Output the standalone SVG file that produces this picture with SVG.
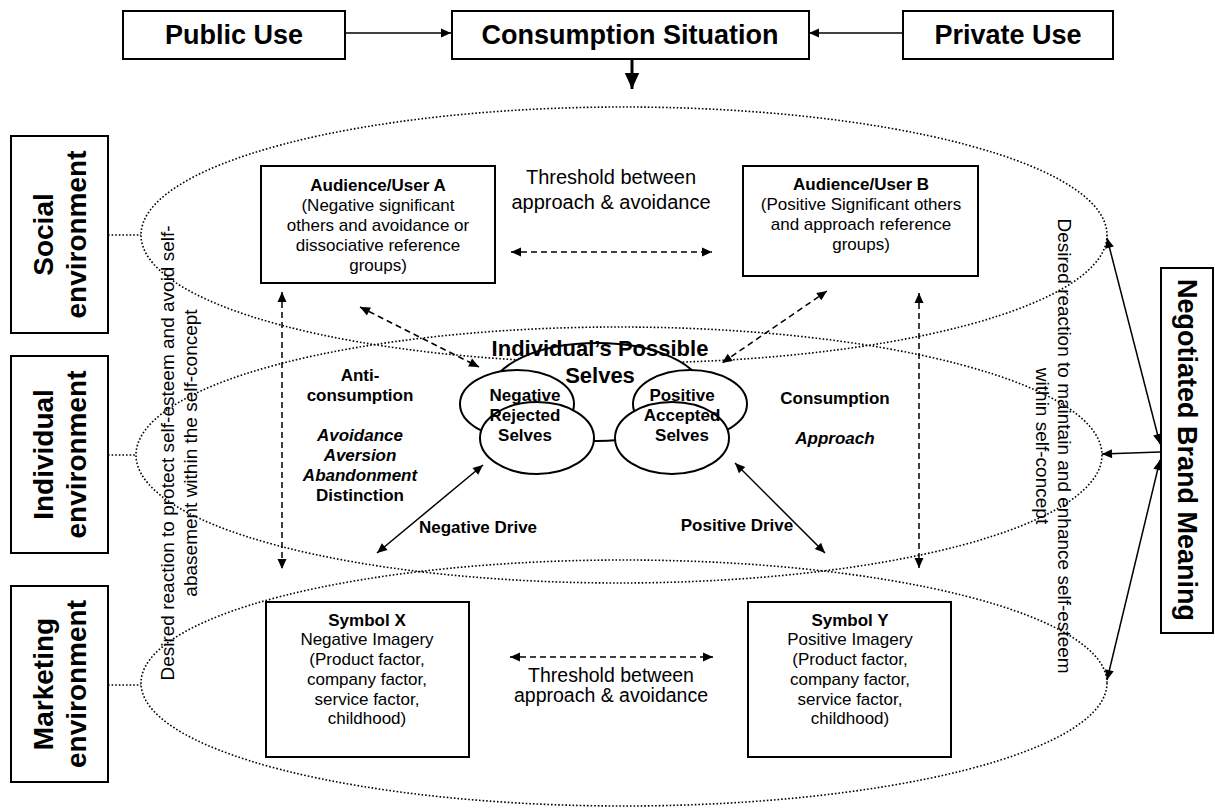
<svg xmlns="http://www.w3.org/2000/svg" width="1215" height="809" viewBox="0 0 1215 809">
<defs>
<style>
.box{fill:#fff;stroke:#000;stroke-width:2}
.t{font-family:"Liberation Sans",Arial,Helvetica,sans-serif;fill:#000}
.b{font-weight:bold}
.i{font-style:italic}
.dot{fill:none;stroke:#000;stroke-width:1.6;stroke-dasharray:1.6 2}
.dash{fill:none;stroke:#000;stroke-width:1.5;stroke-dasharray:6 4}
.sol{fill:none;stroke:#000;stroke-width:1.5}
.self{fill:#fff;stroke:#000;stroke-width:2}
</style>
<marker id="ah" viewBox="0 0 10 10" refX="10" refY="5" markerWidth="11" markerHeight="10" markerUnits="userSpaceOnUse" orient="auto-start-reverse"><path d="M0,0.5 L10,5 L0,9.5 z" fill="#000"/></marker>
<marker id="big" viewBox="0 0 10 10" refX="10" refY="5" markerWidth="16" markerHeight="16" markerUnits="userSpaceOnUse" orient="auto"><path d="M0,0.5 L10,5 L0,9.5 z" fill="#000"/></marker>
</defs>
<rect width="1215" height="809" fill="#fff"/>

<g id="environments">
<ellipse id="social-ellipse" class="dot" cx="624" cy="235" rx="483" ry="128"/>
<ellipse id="individual-ellipse" class="dot" cx="619" cy="455" rx="483" ry="128"/>
<ellipse id="marketing-ellipse" class="dot" cx="624" cy="683" rx="483" ry="123"/>
</g>

<g id="connectors">
<line class="sol" x1="345" y1="33" x2="451" y2="33" marker-end="url(#ah)"/>
<line class="sol" x1="903" y1="33" x2="809" y2="33" marker-end="url(#ah)"/>
<line x1="632" y1="59" x2="632" y2="89" stroke="#000" stroke-width="3" marker-end="url(#big)"/>
<line class="dot" x1="108" y1="235" x2="141" y2="235"/>
<line class="dot" x1="108" y1="455" x2="136" y2="455"/>
<line class="dot" x1="108" y1="685" x2="141" y2="685"/>
<line class="dash" x1="511" y1="252" x2="712" y2="252" marker-start="url(#ah)" marker-end="url(#ah)"/>
<line class="dash" x1="282" y1="292" x2="282" y2="569" marker-start="url(#ah)" marker-end="url(#ah)"/>
<line class="dash" x1="919" y1="293" x2="919" y2="568" marker-start="url(#ah)" marker-end="url(#ah)"/>
<line class="dash" x1="360" y1="307" x2="479" y2="367" marker-start="url(#ah)" marker-end="url(#ah)"/>
<line class="dash" x1="827" y1="291" x2="722" y2="363" marker-start="url(#ah)" marker-end="url(#ah)"/>
<line class="sol" x1="483" y1="465" x2="377" y2="553" marker-start="url(#ah)" marker-end="url(#ah)"/>
<line class="sol" x1="735" y1="463" x2="825" y2="553" marker-start="url(#ah)" marker-end="url(#ah)"/>
<line class="dash" x1="510" y1="657" x2="713" y2="657" marker-start="url(#ah)" marker-end="url(#ah)"/>
<line class="sol" x1="1160" y1="444" x2="1107" y2="238" marker-start="url(#ah)" marker-end="url(#ah)"/>
<line class="sol" x1="1160" y1="452" x2="1102" y2="454" marker-end="url(#ah)"/>
<line class="sol" x1="1160" y1="460" x2="1107" y2="680" marker-start="url(#ah)" marker-end="url(#ah)"/>
</g>

<g id="public-use">
<rect class="box" x="123" y="11" width="222" height="48"/>
<text class="t b" x="234" y="44" font-size="27" text-anchor="middle">Public Use</text>
</g>
<g id="consumption-situation">
<rect class="box" x="452" y="11" width="357" height="48"/>
<text class="t b" x="630" y="44" font-size="27" text-anchor="middle">Consumption Situation</text>
</g>
<g id="private-use">
<rect class="box" x="903" y="11" width="210" height="48"/>
<text class="t b" x="1008" y="44" font-size="27" text-anchor="middle">Private Use</text>
</g>

<g id="social-environment">
<rect class="box" x="11" y="136" width="97" height="197"/>
<text class="t b" font-size="28" text-anchor="middle" transform="translate(59.5,234.5) rotate(-90)"><tspan x="0" y="-6.5">Social</tspan><tspan x="0" y="26.5">environment</tspan></text>
</g>
<g id="individual-environment">
<rect class="box" x="11" y="356" width="97" height="197"/>
<text class="t b" font-size="28" text-anchor="middle" transform="translate(59.5,454.5) rotate(-90)"><tspan x="0" y="-6.5">Individual</tspan><tspan x="0" y="26.5">environment</tspan></text>
</g>
<g id="marketing-environment">
<rect class="box" x="11" y="586" width="97" height="196"/>
<text class="t b" font-size="28" text-anchor="middle" transform="translate(59.5,684) rotate(-90)"><tspan x="0" y="-6.5">Marketing</tspan><tspan x="0" y="26.5">environment</tspan></text>
</g>

<g id="negotiated-brand-meaning">
<rect class="box" x="1161" y="268" width="52" height="365"/>
<text class="t b" font-size="27" text-anchor="middle" transform="translate(1187,450) rotate(90)" y="9.5">Negotiated Brand Meaning</text>
</g>

<g id="left-reaction">
<text class="t" font-size="19" text-anchor="middle" transform="translate(167,453) rotate(-90)" y="6.7">Desired reaction to protect self-esteem and avoid self-</text>
<text class="t" font-size="19" text-anchor="middle" transform="translate(190,453) rotate(-90)" y="6.7">abasement within the self-concept</text>
</g>
<g id="right-reaction">
<text class="t" font-size="19" text-anchor="middle" transform="translate(1065,446) rotate(90)" y="6.7">Desired reaction to maintain and enhance self-esteem</text>
<text class="t" font-size="19" text-anchor="middle" transform="translate(1043,446) rotate(90)" y="6.7">within self-concept</text>
</g>

<g id="audience-a">
<rect class="box" x="261" y="166" width="234" height="117"/>
<text class="t" font-size="17" text-anchor="middle"><tspan class="b" x="378" y="191">Audience/User A</tspan><tspan x="378" y="211">(Negative significant</tspan><tspan x="378" y="231">others and avoidance or</tspan><tspan x="378" y="251">dissociative reference</tspan><tspan x="378" y="271">groups)</tspan></text>
</g>
<g id="audience-b">
<rect class="box" x="743" y="166" width="235" height="110"/>
<text class="t" font-size="17" text-anchor="middle"><tspan class="b" x="861" y="190">Audience/User B</tspan><tspan x="861" y="210">(Positive Significant others</tspan><tspan x="861" y="230">and approach reference</tspan><tspan x="861" y="250">groups)</tspan></text>
</g>
<g id="threshold-top">
<text class="t" font-size="20" text-anchor="middle"><tspan x="611" y="184">Threshold between</tspan><tspan x="611" y="209">approach &amp; avoidance</tspan></text>
</g>

<g id="possible-selves">
<ellipse class="self" cx="597" cy="392" rx="106" ry="49"/>
<ellipse class="self" cx="517" cy="404" rx="57" ry="34"/>
<ellipse class="self" cx="537" cy="438" rx="57" ry="36"/>
<ellipse class="self" cx="690" cy="404" rx="57" ry="34"/>
<ellipse class="self" cx="672" cy="438" rx="57" ry="36"/>
<text class="t b" font-size="22" text-anchor="middle"><tspan x="600" y="356">Individual’s Possible</tspan><tspan x="600" y="383">Selves</tspan></text>
<text class="t b" font-size="17" text-anchor="middle"><tspan x="525" y="401">Negative</tspan><tspan x="525" y="421">Rejected</tspan><tspan x="525" y="441">Selves</tspan></text>
<text class="t b" font-size="17" text-anchor="middle"><tspan x="682" y="401">Positive</tspan><tspan x="682" y="421">Accepted</tspan><tspan x="682" y="441">Selves</tspan></text>
</g>

<g id="anti-consumption">
<text class="t b" font-size="17" text-anchor="middle"><tspan x="360" y="381">Anti-</tspan><tspan x="360" y="401">consumption</tspan><tspan class="i" x="360" y="441">Avoidance</tspan><tspan class="i" x="360" y="461">Aversion</tspan><tspan class="i" x="360" y="481">Abandonment</tspan><tspan x="360" y="501">Distinction</tspan></text>
</g>
<g id="consumption">
<text class="t b" font-size="17" text-anchor="middle"><tspan x="835" y="404">Consumption</tspan><tspan class="i" x="835" y="444">Approach</tspan></text>
</g>
<g id="drives">
<text class="t b" font-size="17" text-anchor="middle" x="478" y="533">Negative Drive</text>
<text class="t b" font-size="17" text-anchor="middle" x="737" y="531">Positive Drive</text>
</g>

<g id="symbol-x">
<rect class="box" x="266" y="602" width="203" height="155"/>
<text class="t" font-size="17" text-anchor="middle"><tspan class="b" x="367" y="626">Symbol X</tspan><tspan x="367" y="645">Negative Imagery</tspan><tspan x="367" y="665">(Product factor,</tspan><tspan x="367" y="685">company factor,</tspan><tspan x="367" y="705">service factor,</tspan><tspan x="367" y="724">childhood)</tspan></text>
</g>
<g id="symbol-y">
<rect class="box" x="748" y="602" width="203" height="155"/>
<text class="t" font-size="17" text-anchor="middle"><tspan class="b" x="850" y="626">Symbol Y</tspan><tspan x="850" y="645">Positive Imagery</tspan><tspan x="850" y="665">(Product factor,</tspan><tspan x="850" y="685">company factor,</tspan><tspan x="850" y="705">service factor,</tspan><tspan x="850" y="724">childhood)</tspan></text>
</g>
<g id="threshold-bottom">
<text class="t" font-size="19.5" text-anchor="middle"><tspan x="611" y="682">Threshold between</tspan><tspan x="611" y="702">approach &amp; avoidance</tspan></text>
</g>
</svg>
